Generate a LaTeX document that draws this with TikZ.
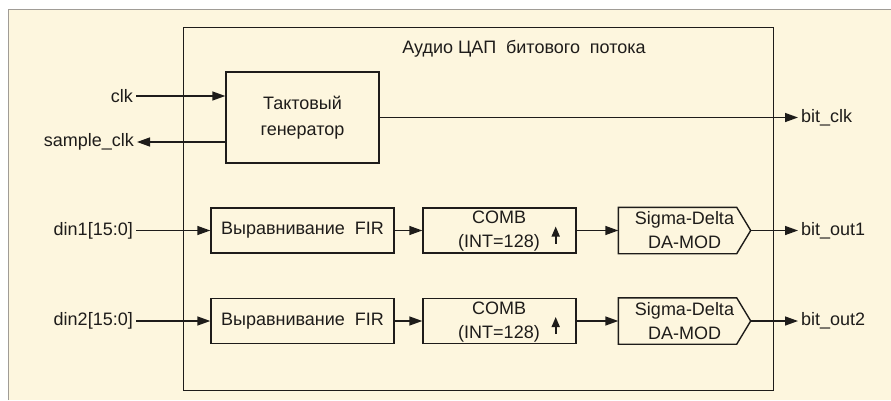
\documentclass[tikz,border=0pt]{standalone}
\usepackage{fontspec}
\setmainfont{Liberation Sans}
\usetikzlibrary{positioning,arrows.meta}
\definecolor{dacbg}{RGB}{253,246,222}
\definecolor{dacframe}{RGB}{160,156,150}
\definecolor{dacink}{RGB}{30,28,26}
\newcommand\wsp{\hspace{0.55em}}

\begin{document}
\begin{tikzpicture}[x=1pt,y=-1pt,line width=1.4pt,
  every node/.style={font=\fontsize{18}{24}\selectfont,text=dacink},
  blk/.style={draw=dacink,minimum height=45pt,inner sep=0pt,align=center},
  sig/.style={draw=dacink,-{Triangle[length=13pt,width=9pt]}},
  lbl/.style={inner sep=2.5pt}]
  \useasboundingbox (0,0) rectangle (891,400);
  % paper
  \fill[dacbg] (8,9) rectangle (891,400);
  \draw[dacframe,line width=1pt] (8,400) -- (8,9) -- (891,9);
  % DAC block
  \node[draw=dacink,minimum width=590pt,minimum height=363pt,anchor=north west,inner sep=0pt] (dac) at (183,27) {};
  \node (title) at (524,49) {Аудио ЦАП\wsp битового\wsp потока};
  % clock generator
  \node[blk,minimum width=153pt,minimum height=91pt] (gen) at (302.5,117.5) {Тактовый\\[2pt]генератор};
  \node[lbl,anchor=east] (clk) at (136,96) {clk};
  \node[lbl,anchor=east] (smp) at (137,142) {sample\_clk};
  \node[lbl,anchor=west] (bclk) at (798,117.5) {bit\_clk};
  \draw[sig] (clk.east) -- (clk.east -| gen.west);
  \draw[sig] (smp.east -| gen.west) -- (smp.east);
  \draw[sig] (gen.east) -- (bclk.west);
  % two data channels
  \foreach \i/\y in {1/230.5,2/321} {
    \node[lbl,anchor=east] (din\i) at (136,\y) {din\i[15:0]};
    \node[blk,minimum width=183pt] (fir\i) at (302.5,\y) {Выравнивание\wsp FIR};
    \node[blk,minimum width=153pt] (comb\i) at (499.5,\y) {};
    \node[align=center] (combt\i) at (499,\y+1) {COMB\\(INT=128)};
    \node[blk,draw=none,minimum width=131pt] (mod\i) at (684.5,\y) {Sigma-Delta\\DA-MOD};
    \draw[dacink] (mod\i.north west) -- ([xshift=-14pt]mod\i.north east) -- (mod\i.east)
      -- ([xshift=-14pt]mod\i.south east) -- (mod\i.south west) -- cycle;
    \node[lbl,anchor=west] (out\i) at (798,\y) {bit\_out\i};
    \draw[sig] (din\i) -- (fir\i);
    \draw[sig] (fir\i) -- (comb\i);
    \draw[sig] (comb\i) -- (mod\i);
    \draw[sig] (mod\i.east) -- (out\i);
    % up-sampling mark
    \coordinate (up\i) at ([xshift=-21pt,yshift=-13pt]comb\i.east);
    \draw[draw=dacink,line width=1.6pt,-{Triangle[length=10pt,width=8pt]}] (up\i) -- ++(0,-17);
  }
\end{tikzpicture}
\end{document}
